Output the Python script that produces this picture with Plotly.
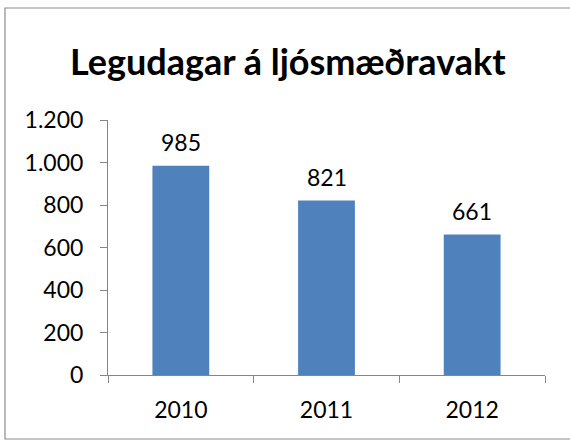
import plotly.graph_objects as go

categories = ["2010", "2011", "2012"]
values = [985, 821, 661]
title_text = "Legudagar á ljósmæðravakt"

FONT = "Lato, Calibri, Carlito, sans-serif"

fig = go.Figure()
fig.add_trace(go.Bar(
    x=categories, y=values,
    marker=dict(color="#4F81BD", line=dict(width=0)),
    width=0.39,
    hoverinfo="skip",
))

for i, v in enumerate(values):
    fig.add_annotation(x=i, y=v, text=str(v), showarrow=False,
                       xref="x", yref="y",
                       yanchor="bottom", yshift=8,
                       font=dict(family=FONT, size=23, color="#000000"))

fig.update_layout(
    width=570, height=441,
    margin=dict(l=108, r=25, t=120, b=66, autoexpand=False),
    paper_bgcolor="white", plot_bgcolor="white",
    separators=",.",
    showlegend=False,
    title=dict(text="<b>" + title_text + "</b>", x=0.505, xanchor="center",
               y=1 - 62 / 441, yanchor="middle",
               font=dict(family=FONT, size=36, color="#000000")),
    font=dict(family=FONT, size=23, color="#000000"),
    shapes=[dict(type="rect", xref="paper", yref="paper",
                 x0=-103 / 437, x1=(575 - 108) / 437,
                 y0=-(439 - 375) / 255, y1=(375 - 8) / 255,
                 line=dict(color="#8c8c8c", width=1.2), layer="below")],
)
fig.update_yaxes(range=[0, 1200], dtick=200, tick0=0,
                 showgrid=False, zeroline=False,
                 showline=True, linecolor="#868686", linewidth=1,
                 ticks="outside", ticklen=7, tickcolor="#868686",
                 separatethousands=True, tickformat=",d",
                 ticklabelstandoff=12,
                 tickfont=dict(family=FONT, size=23, color="#000000"))
fig.update_xaxes(type="category", range=[-0.5, 2.5], showgrid=False, showline=True,
                 linecolor="#868686", linewidth=1,
                 ticks="outside", ticklen=7, tickcolor="#868686",
                 tickson="boundaries", ticklabelstandoff=14, tickangle=0,
                 tickfont=dict(family=FONT, size=23, color="#000000"))

fig.write_html("out.html", config={"displayModeBar": False},
               post_script="document.body.style.margin='0';")
